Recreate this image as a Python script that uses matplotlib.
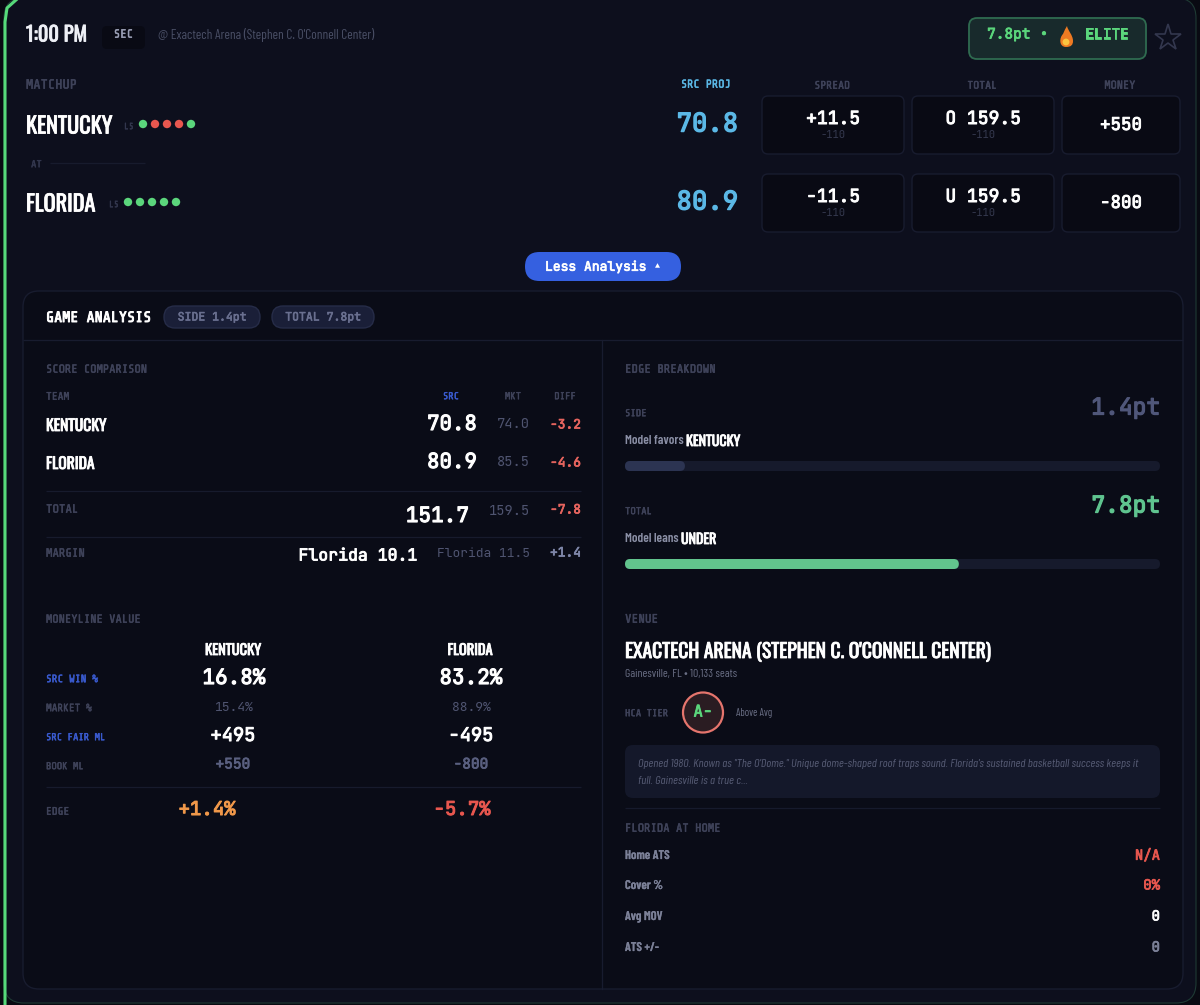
#Game card - SEC matchup

import matplotlib
matplotlib.use('Agg')
import matplotlib.pyplot as plt
import matplotlib.patheffects as pe
from matplotlib.patches import FancyBboxPatch, Circle, PathPatch
from matplotlib.path import Path

# Raw data
teams = ['KENTUCKY', 'FLORIDA']
last_five = [['W', 'L', 'L', 'L', 'W'], ['W', 'W', 'W', 'W', 'W']]
src_proj = ['70.8', '80.9']
spreads = ['+11.5', '-11.5']
totals = ['O 159.5', 'U 159.5']
money = ['+550', '-800']
juice = '-110'

mkt_scores = ['74.0', '85.5']
diff_scores = ['-3.2', '-4.6']
total_row = ['151.7', '159.5', '-7.8']
margin_row = ['Florida 10.1', 'Florida 11.5', '+1.4']

ml_labels = ['SRC WIN %', 'MARKET %', 'SRC FAIR ML', 'BOOK ML', 'EDGE']
ml_kentucky = ['16.8%', '15.4%', '+495', '+550', '+1.4%']
ml_florida = ['83.2%', '88.9%', '-495', '-800', '-5.7%']

side_edge = 1.4
total_edge = 7.8
edge_scale = 12.5

home_labels = ['Home ATS', 'Cover %', 'Avg MOV', 'ATS +/-']
home_values = ['N/A', '0%', '0', '0']

note = ['Opened 1980. Known as "The O\'Dome." Unique dome-shaped roof traps sound. Florida\'s sustained basketball success keeps it',
        'full. Gainesville is a true c...']

HEAD = ['Oswald', 'Liberation Sans']
NARROW = ['Barlow Condensed', 'Liberation Sans']
MONO = ['JetBrains Mono', 'DejaVu Sans Mono']
TAG = ['Share Tech Mono', 'Liberation Mono']

BG = '#0d0f1d'
PANEL = '#0a0c17'
LINE = '#181c2f'
DIM = '#3f435a'
MUTED = '#4f5470'
GREY = '#7c8198'
BLUE = '#5bb8e6'
SRC = '#3a5bd0'
GREEN = '#5bd67c'
RED = '#e8574f'
WHITE = '#ffffff'

fig = plt.figure(figsize=(12, 10.05), dpi=100, facecolor='#090a12')
ax = fig.add_axes([0, 0, 1, 1])
ax.set_xlim(0, 1200)
ax.set_ylim(1005, 0)
ax.axis('off')


# font sizes below are in pixels
def txt(x, y, s, px, color=WHITE, fam=MONO, w='bold', ha='left', style='normal', heavy=0):
    # JetBrains Mono and Oswald only come in one weight here, so thicken them
    if fam is MONO and w == 'bold':
        heavy = px * 0.04
    t = ax.text(x, y, s, fontsize=px * 0.72, color=color, family=fam, weight=w,
                ha=ha, va='center', style=style, zorder=5)
    if heavy:
        t.set_path_effects([pe.withStroke(linewidth=heavy, foreground=color)])
    return t


def head(x, y, s, px, ha='left', color=WHITE):
    return txt(x, y + 1.5, s, px, color, HEAD, 'normal', ha, heavy=0.6)


def tag(x, y, s, px=11, color=DIM, ha='left'):
    return txt(x, y + 0.7, s, px, color, TAG, 'normal', ha, heavy=0.35)


def box(x0, y0, x1, y1, r, face, edge='none', lw=1.0, z=1):
    p = FancyBboxPatch((x0, y0), x1 - x0, y1 - y0, boxstyle='round,pad=0,rounding_size=%g' % r,
                       facecolor=face, edgecolor=edge, linewidth=lw, zorder=z)
    ax.add_patch(p)
    return p


def hline(y, x0, x1, color='#171b2d'):
    ax.plot([x0, x1], [y, y], color=color, lw=0.9, solid_capstyle='butt')


# outer card
box(4, -2, 1196, 1003, 20, BG, '#1e3a34', 0.8)
ax.plot([5, 5, 7, 16], [1005, 22, 8, 0], color='#56d97a', lw=2.2)

# header row
head(26, 33, '1:00 PM', 20.5, color='#eef0f6')
box(102, 26, 145, 49, 5, '#090a14')
tag(123.5, 34, 'SEC', 12, '#9a9fb5', 'center')
txt(158, 35, "@ Exactech Arena (Stephen C. O'Connell Center)", 13.4, '#4a4f66', NARROW, 'normal')

box(969, 18, 1146, 59, 8, '#182a2c', '#2f6b50', 1.3)
txt(987, 35, '7.8pt', 14.5, GREEN)
txt(1044, 35, '•', 14.5, GREEN, ha='center')
txt(1085, 35, 'ELITE', 14.5, GREEN)

# flame, no emoji font here
flame = Path([(1066, 47), (1059, 47), (1059, 38), (1063, 34), (1064, 31), (1066, 28), (1067, 26),
              (1068, 31), (1073, 35), (1073, 41), (1073, 45), (1071, 47), (1066, 47)],
             [Path.MOVETO] + [Path.CURVE4] * 12)
ax.add_patch(PathPatch(flame, facecolor='#ee7a22', edgecolor='none', zorder=3))
ax.add_patch(Circle((1066, 42), 3.4, facecolor='#f9c440', edgecolor='none', zorder=4))

ax.plot([1168], [38], marker='*', ms=20, mfc='none', mec='#33374e', mew=1.2)

# matchup header
tag(26, 84, 'MATCHUP', 13.5)
tag(706, 84, 'SRC PROJ', 11.5, BLUE, 'center')
tag(832, 85, 'SPREAD', 11, ha='center')
tag(982, 85, 'TOTAL', 11, ha='center')
tag(1120, 85, 'MONEY', 11.5, ha='center')

# team rows
row_y = [125, 203]
dot_x = [143, 128]
label_x = [124, 109]
for i, team in enumerate(teams):
    y = row_y[i]
    head(26, y, team, 22.3)
    tag(label_x[i], y + 1, 'L5', 9, '#33374e')
    for j, r in enumerate(last_five[i]):
        ax.add_patch(Circle((dot_x[i] + j * 12, y - 1), 4.2, facecolor=GREEN if r == 'W' else RED,
                            edgecolor='none', zorder=3))
    txt(738, y - 1, src_proj[i], 25.7, BLUE, ha='right')
    top = y - 29
    box(762, top, 904, top + 58, 6, '#090a14', LINE)
    box(912, top, 1054, top + 58, 6, '#090a14', LINE)
    box(1062, top, 1180, top + 58, 6, '#090a14', LINE)
    txt(833, top + 23, spreads[i], 18, ha='center')
    txt(983, top + 23, totals[i], 18, ha='center')
    txt(833, top + 39, juice, 10.5, '#363a50', ha='center', w='normal')
    txt(983, top + 39, juice, 10.5, '#363a50', ha='center', w='normal')
    txt(1121, top + 29, money[i], 17.5, ha='center')

tag(31, 164, 'AT', 10, '#33374e')
hline(163, 50, 145)

# toggle
box(525, 252, 681, 281, 14.5, '#3560e0')
txt(545, 267, 'Less Analysis', 13)
txt(657, 266, '▲', 6.5, ha='center', fam=['DejaVu Sans'])

# analysis panel
box(23, 291, 1183, 989, 16, PANEL, LINE)
txt(46, 318, 'GAME ANALYSIS', 15, WHITE, TAG, 'normal', heavy=0.7)
box(164, 306, 260, 328, 11, '#1a1f38', '#262c48')
txt(212, 317, 'SIDE 1.4pt', 11.5, '#6a7090', ha='center')
box(272, 306, 374, 328, 11, '#1a1f38', '#262c48')
txt(323, 317, 'TOTAL 7.8pt', 11.5, '#6a7090', ha='center')
hline(340, 23, 1183, LINE)
ax.plot([602, 602], [340, 989], color=LINE, lw=0.9)

# score comparison
tag(46, 369, 'SCORE COMPARISON', 11.7)
tag(46, 396, 'TEAM', 10.8)
tag(451, 396, 'SRC', 10, SRC, 'center')
tag(513, 396, 'MKT', 10, ha='center')
tag(565, 396, 'DIFF', 10, ha='center')
score_y = [425, 463]
for i, team in enumerate(teams):
    y = score_y[i]
    head(46, y, team, 15.6)
    txt(477, y - 1, src_proj[i], 20.8, ha='right')
    txt(530, y - 1, mkt_scores[i], 13.7, MUTED, ha='right', w='normal')
    txt(581, y, diff_scores[i], 12.9, '#e8655f', ha='right')

hline(491, 46, 581)
tag(46, 509, 'TOTAL', 12)
txt(469, 516, total_row[0], 21, ha='right')
txt(530, 511, total_row[1], 13.7, MUTED, ha='right', w='normal')
txt(581, 510, total_row[2], 12.9, '#e8655f', ha='right')
hline(537, 46, 581)
tag(46, 553, 'MARGIN', 12)
txt(417, 556, margin_row[0], 16.5, ha='right')
txt(530, 553, margin_row[1], 12.9, MUTED, ha='right', w='normal')
txt(581, 553, margin_row[2], 12.9, '#8088aa', ha='right')

# moneyline value
tag(46, 619, 'MONEYLINE VALUE', 11.7)
head(233, 649, teams[0], 14.5, 'center')
head(470, 649, teams[1], 14.5, 'center')
ml_y = [678, 707, 736, 765, 810]
ml_tag_color = [SRC, DIM, SRC, DIM, DIM]
ml_tag_size = [10.7, 10.6, 10, 10, 10.8]
ml_size = [21, 13, 18.7, 14.5, 19]
ml_weight = ['bold', 'normal', 'bold', 'bold', 'bold']
ml_color = [WHITE, MUTED, WHITE, '#5a6080']
ml_x = [[234, 234, 233, 233, 207], [471, 471, 471, 471, 462]]
for i, lab in enumerate(ml_labels):
    tag(46, ml_y[i] + 1, lab, ml_tag_size[i], ml_tag_color[i])
    left = ml_color[i] if i < 4 else '#f0984a'
    right = ml_color[i] if i < 4 else RED
    txt(ml_x[0][i], ml_y[i], ml_kentucky[i], ml_size[i], left, ha='center', w=ml_weight[i])
    txt(ml_x[1][i], ml_y[i], ml_florida[i], ml_size[i], right, ha='center', w=ml_weight[i])
hline(787, 46, 581)

# edge breakdown
tag(625, 369, 'EDGE BREAKDOWN', 12)
bar_x0, bar_x1 = 625, 1160
bar_w = bar_x1 - bar_x0


def edge_row(y, name, edge, color, fill, lead, lead_x, pick):
    tag(625, y, name, 10)
    txt(1160, y - 5, '%.1fpt' % edge, 23, color, ha='right')
    txt(625, y + 28, lead, 13, '#8a8fa5', NARROW, 600)
    head(lead_x, y + 27, pick, 14)
    box(bar_x0, y + 48, bar_x1, y + 58, 5, '#161a2c')
    box(bar_x0, y + 48, bar_x0 + bar_w * edge / edge_scale, y + 58, 5, fill, z=2)


edge_row(413, 'SIDE', side_edge, '#50577a', '#2c3452', 'Model favors', 686, teams[0])
edge_row(511, 'TOTAL', total_edge, '#5fc48f', '#62c48d', 'Model leans', 681, 'UNDER')

# venue
tag(625, 619, 'VENUE', 12.3)
head(625, 650, "EXACTECH ARENA (STEPHEN C. O'CONNELL CENTER)", 19.6)
txt(625, 674, 'Gainesville, FL • 10,133 seats', 11.8, '#6a6f85', NARROW, 'normal')
tag(625, 713, 'HCA TIER', 10)
ax.add_patch(Circle((703, 712.5), 20, facecolor='#2a1c22', edgecolor='#e5756d', linewidth=1.6, zorder=3))
txt(703, 712, 'A-', 16, GREEN, ha='center')
txt(736, 713, 'Above Avg', 10.6, '#6a6f85', NARROW, 'normal')

box(625, 745, 1160, 798, 8, '#14182a')
txt(638, 764, note[0], 12.2, '#565b74', NARROW, 'normal', style='italic')
txt(638, 781, note[1], 12.2, '#565b74', NARROW, 'normal', style='italic')
hline(808, 625, 1160, '#161a2c')

# home record
tag(625, 828, 'FLORIDA AT HOME', 11.8)
home_y = [856, 886, 917, 948]
home_color = [RED, RED, WHITE, GREY]
for i, lab in enumerate(home_labels):
    txt(625, home_y[i], lab, 12.6, GREY, NARROW, 600, heavy=0.2)
    txt(1160, home_y[i], home_values[i], 14, home_color[i], ha='right')

fig.savefig('out.png', dpi=100, facecolor=fig.get_facecolor())
